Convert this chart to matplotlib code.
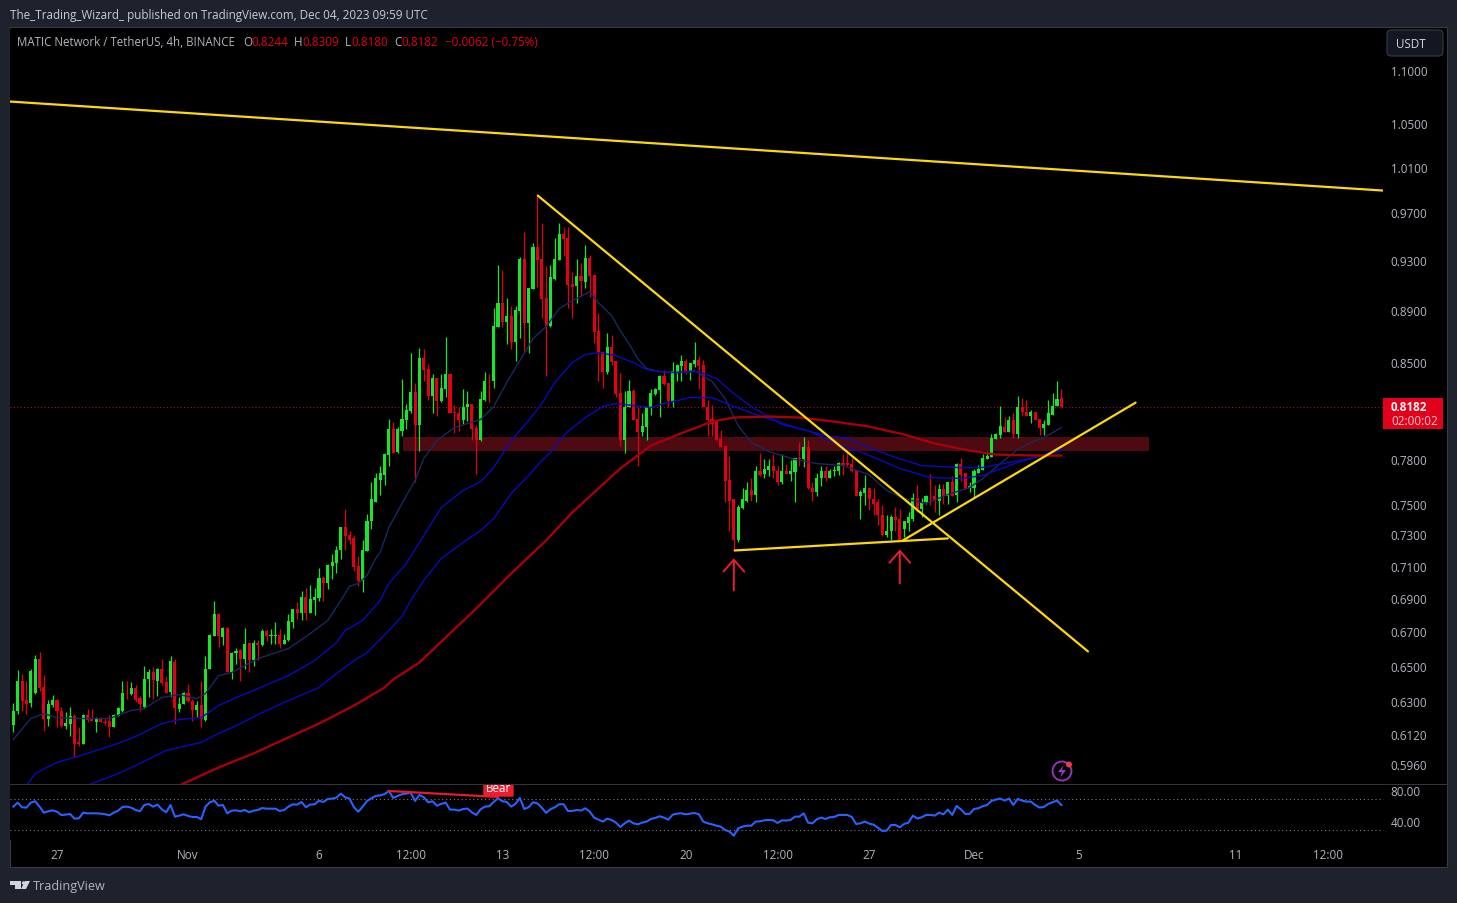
import matplotlib
matplotlib.use("Agg")
import matplotlib.pyplot as plt
import matplotlib.dates as mdates
from matplotlib.patches import Rectangle, Polygon, Circle, FancyBboxPatch
from matplotlib.ticker import NullLocator, NullFormatter
from matplotlib.transforms import IdentityTransform, ScaledTranslation
import numpy as np
import pandas as pd

plt.rcParams['font.family'] = ['Open Sans', 'DejaVu Sans']

# 4h candles, first bar 2023-10-25 08:00
first_bar = '2023-10-25 08:00'

opens = [.6177,.6251,.6423,.6316,.6295,.6351,.6549,.6389,.6209,.6288,
         .6316,.6255,.6172,.6182,.6224,.6081,.6074,.6228,.6213,.6191,
         .6215,.6191,.6195,.6167,.6224,.6255,.6355,.6347,.6381,.6325,
         .6277,.6429,.6471,.6423,.6491,.6414,.6357,.6531,.6264,.6292,
         .6353,.6310,.6260,.6283,.6200,.6486,.6683,.6809,.6674,.6729,
         .6471,.6579,.6599,.6547,.6638,.6541,.6640,.6625,.6713,.6678,
         .6683,.6689,.6634,.6658,.6761,.6839,.6815,.6912,.6815,.6894,
         .6906,.7029,.6998,.7104,.7123,.7205,.7359,.7301,.7282,.7104,
         .7011,.7199,.7392,.7523,.7671,.7704,.7842,.8024,.7863,.8010,
         .8088,.8153,.8291,.8052,.8543,.8461,.8261,.8394,.8225,.8313,
         .8424,.8139,.8132,.8088,.8175,.8203,.8031,.7940,.8232,.8372,
         .8365,.8780,.8968,.8819,.8866,.8664,.8905,.9325,.8811,.9080,
         .9424,.9325,.9008,.8788,.9161,.9316,.9525,.9499,.9120,.9104,
         .9185,.9137,.9333,.9193,.8749,.8589,.8438,.8626,.8521,.8283,
         .7940,.8175,.8298,.8095,.8003,.8038,.8168,.8276,.8305,.8409,
         .8357,.8225,.8438,.8483,.8521,.8446,.8498,.8528,.8491,.8182,
         .8095,.8081,.7954,.7905,.7671,.7537,.7269,.7483,.7530,.7597,
         .7570,.7732,.7711,.7739,.7760,.7732,.7651,.7732,.7711,.7725,
         .7815,.7808,.7898,.7617,.7584,.7678,.7732,.7678,.7732,.7732,
         .7787,.7787,.7780,.7739,.7563,.7577,.7617,.7543,.7517,.7431,
         .7307,.7327,.7424,.7411,.7340,.7385,.7411,.7550,.7477,.7517,
         .7563,.7557,.7530,.7604,.7563,.7657,.7570,.7780,.7718,.7617,
         .7617,.7718,.7739,.7808,.7828,.7954,.7982,.8038,.8003,.8088,
         .7989,.8182,.8146,.8117,.8146,.8095,.8031,.8053,.8124,.8189,
         .8244]
highs = [.6296,.6484,.6461,.6423,.6490,.6572,.6586,.6457,.6314,.6339,
         .6320,.6277,.6244,.6273,.6233,.6167,.6233,.6262,.6264,.6218,
         .6218,.6215,.6228,.6237,.6273,.6419,.6423,.6417,.6400,.6338,
         .6503,.6490,.6499,.6495,.6547,.6451,.6566,.6547,.6329,.6357,
         .6404,.6319,.6310,.6419,.6566,.6693,.6888,.6819,.6733,.6733,
         .6585,.6611,.6605,.6729,.6638,.6658,.6658,.6723,.6717,.6723,
         .6763,.6723,.6693,.6813,.6839,.6882,.6949,.6973,.6986,.6973,
         .7092,.7042,.7117,.7180,.7231,.7359,.7471,.7327,.7301,.7167,
         .7269,.7444,.7657,.7718,.7766,.7856,.8095,.8074,.8038,.8387,
         .8203,.8581,.8357,.8619,.8611,.8498,.8424,.8394,.8424,.8703,
         .8424,.8196,.8182,.8313,.8298,.8203,.8053,.8298,.8438,.8424,
         .8928,.9275,.9234,.9008,.8944,.8944,.9341,.9550,.9088,.9457,
         .9858,.9626,.9267,.9275,.9499,.9618,.9592,.9592,.9218,.9325,
         .9291,.9441,.9358,.9193,.8889,.8589,.8734,.8718,.8521,.8431,
         .8298,.8379,.8313,.8175,.8132,.8182,.8313,.8320,.8416,.8453,
         .8357,.8513,.8498,.8566,.8536,.8506,.8664,.8558,.8528,.8232,
         .8196,.8081,.8017,.7905,.7835,.7537,.7497,.7617,.7657,.7678,
         .7760,.7856,.7808,.7808,.7849,.7766,.7849,.7780,.7801,.7815,
         .7926,.7968,.7947,.7651,.7718,.7760,.7760,.7746,.7766,.7794,
         .7849,.7856,.7815,.7739,.7597,.7704,.7617,.7617,.7543,.7497,
         .7431,.7437,.7484,.7477,.7398,.7451,.7577,.7637,.7550,.7570,
         .7711,.7637,.7644,.7644,.7657,.7698,.7787,.7815,.7718,.7651,
         .7746,.7773,.7849,.7870,.7989,.7996,.8189,.8110,.8117,.8132,
         .8261,.8247,.8232,.8160,.8146,.8095,.8088,.8232,.8283,.8372,
         .8309]
lows = [.6136,.6237,.6255,.6233,.6277,.6347,.6366,.6145,.6172,.6273,
        .6167,.6167,.6154,.6113,.6003,.6061,.6074,.6191,.6195,.6136,
        .6191,.6178,.6110,.6163,.6224,.6246,.6319,.6342,.6301,.6255,
        .6270,.6329,.6319,.6338,.6400,.6351,.6329,.6182,.6246,.6292,
        .6301,.6196,.6218,.6163,.6196,.6486,.6683,.6618,.6625,.6471,
        .6429,.6518,.6419,.6490,.6471,.6508,.6541,.6619,.6654,.6634,
        .6634,.6609,.6634,.6650,.6725,.6779,.6773,.6773,.6815,.6803,
        .6888,.6888,.6961,.7023,.7060,.7148,.7211,.7243,.7073,.6980,
        .6943,.7199,.7340,.7517,.7570,.7637,.7766,.7856,.7856,.7975,
        .8024,.8132,.7651,.7870,.8372,.8232,.8132,.8117,.8218,.8254,
        .8132,.7996,.8010,.8060,.8081,.7940,.7711,.7933,.8225,.8218,
        .8320,.8780,.8780,.8649,.8611,.8521,.8695,.8596,.8581,.9080,
        .9096,.8850,.8409,.8780,.9153,.9316,.9349,.8928,.8850,.8968,
        .9024,.9088,.9016,.8657,.8365,.8320,.8424,.8491,.8254,.7905,
        .7856,.8175,.8088,.7760,.7975,.7940,.8124,.8269,.8110,.8342,
        .8182,.8182,.8365,.8365,.8424,.8379,.8476,.8313,.8175,.7975,
        .7975,.7947,.7898,.7523,.7333,.7199,.7256,.7477,.7517,.7530,
        .7517,.7698,.7678,.7698,.7678,.7637,.7644,.7711,.7664,.7523,
        .7766,.7753,.7604,.7530,.7563,.7624,.7664,.7678,.7698,.7704,
        .7704,.7766,.7725,.7557,.7411,.7497,.7464,.7437,.7372,.7295,
        .7288,.7269,.7333,.7269,.7288,.7327,.7398,.7451,.7424,.7510,
        .7497,.7457,.7437,.7510,.7510,.7563,.7523,.7664,.7604,.7590,
        .7550,.7718,.7739,.7808,.7828,.7954,.7961,.8003,.8003,.7961,
        .7961,.8117,.8117,.8067,.8088,.7982,.7982,.8053,.8124,.8189,
        .8180]
closes = [.6255,.6423,.6310,.6292,.6480,.6547,.6381,.6209,.6292,.6316,
          .6250,.6172,.6189,.6222,.6074,.6074,.6228,.6204,.6195,.6215,
          .6191,.6187,.6167,.6228,.6268,.6355,.6351,.6381,.6314,.6292,
          .6429,.6471,.6427,.6491,.6408,.6351,.6537,.6270,.6292,.6353,
          .6306,.6260,.6283,.6209,.6486,.6689,.6809,.6683,.6727,.6471,
          .6581,.6595,.6547,.6634,.6541,.6638,.6630,.6713,.6678,.6689,
          .6689,.6634,.6658,.6767,.6839,.6815,.6912,.6815,.6900,.6912,
          .7029,.6998,.7110,.7129,.7211,.7359,.7295,.7275,.7098,.7011,
          .7205,.7398,.7537,.7684,.7718,.7849,.8024,.7856,.8024,.8095,
          .8160,.8291,.8052,.8543,.8453,.8261,.8394,.8225,.8320,.8424,
          .8132,.8132,.8088,.8182,.8203,.8024,.7940,.8240,.8372,.8365,
          .8788,.8968,.8819,.8866,.8664,.8913,.9325,.8811,.9088,.9424,
          .9316,.9000,.8788,.9177,.9325,.9525,.9491,.9112,.9096,.9185,
          .9145,.9333,.9185,.8741,.8581,.8438,.8626,.8513,.8276,.7940,
          .8182,.8298,.8088,.8003,.8045,.8175,.8283,.8313,.8409,.8350,
          .8225,.8446,.8491,.8521,.8446,.8506,.8528,.8483,.8175,.8088,
          .8060,.7947,.7898,.7664,.7530,.7269,.7490,.7537,.7597,.7570,
          .7732,.7704,.7746,.7760,.7732,.7651,.7732,.7711,.7732,.7815,
          .7808,.7898,.7617,.7584,.7684,.7732,.7678,.7732,.7739,.7787,
          .7773,.7773,.7732,.7563,.7590,.7617,.7537,.7510,.7431,.7307,
          .7327,.7424,.7404,.7275,.7392,.7418,.7550,.7477,.7523,.7563,
          .7557,.7530,.7604,.7563,.7657,.7563,.7780,.7704,.7610,.7624,
          .7732,.7746,.7815,.7835,.7961,.7989,.8045,.8003,.8088,.7989,
          .8182,.8139,.8117,.8146,.8088,.8031,.8060,.8132,.8189,.8240,
          .8182]

ema_fast_bars = [0,4,7,10,15,22,27,30,34,38,42,44,47,50,56,63,68,72,75,77,79,81,83,84,86,90,92,94,97,101,
                 104,107,110,113,116,119,122,125,128,132,134,137,139,141,143,145,148,152,156,160,163,166,169,173,
                 179,184,190,196,200,204,209,214,219,222,226,230,233,236,240]
ema_fast = [.6097,.6211,.6238,.6216,.6211,.6211,.6255,.6266,.6327,.6344,.6321,.6349,.6451,.6468,.6548,.6607,
            .6695,.6773,.6894,.6980,.6998,.7048,.7155,.7192,.7353,.7563,.7664,.7815,.7940,.8031,
            .8060,.8088,.8182,.8357,.8521,.8687,.8780,.8921,.8984,.9056,.8968,.8866,.8749,.8649,.8536,.8461,
            .8438,.8431,.8446,.8365,.8240,.8045,.7926,.7863,.7808,.7780,.7766,.7704,.7597,.7543,.7510,.7570,
            .7617,.7678,.7780,.7877,.7926,.7961,.8031]

ema_mid_bars = [3,5,10,14,19,24,28,34,38,43,47,51,56,63,69,74,76,80,84,86,90,95,98,103,107,110,114,118,121,124,
                128,131,134,138,142,145,150,157,161,165,169,176,182,189,195,203,210,217,222,230,234,240]
ema_mid = [.5854,.5916,.5975,.6001,.6038,.6076,.6113,.6183,.6205,.6216,.6282,.6327,.6377,.6451,.6537,.6642,
           .6713,.6773,.6894,.6998,.7123,.7346,.7484,.7597,.7657,.7753,.7940,.8081,.8203,.8357,
           .8506,.8566,.8581,.8558,.8506,.8453,.8431,.8438,.8387,.8276,.8182,.8053,.8010,.7912,.7849,.7746,
           .7684,.7678,.7698,.7787,.7822,.7870]

ema_slow_bars = [17,20,24,29,35,43,47,52,57,63,70,74,78,81,86,89,91,94,98,103,107,110,114,118,121,123,125,127,
                 131,135,138,142,146,149,155,160,165,172,180,186,191,196,202,208,216,222,234,240]
ema_slow = [.5854,.5881,.5916,.5969,.6038,.6081,.6129,.6183,.6244,.6310,.6383,.6462,.6537,.6583,.6713,.6797,
            .6894,.7017,.7155,.7256,.7333,.7411,.7577,.7698,.7801,.7856,.7940,.8003,
            .8103,.8182,.8203,.8189,.8175,.8203,.8247,.8247,.8182,.8103,.8024,.7975,.7954,.7891,.7822,.7766,
            .7753,.7753,.7822,.7884]

ema_long_bars = [38,47,55,63,70,78,85,87,93,99,106,114,122,128,134,139,146,154,160,165,173,180,188,196,204,211,219,225,234,240]
ema_long = [.5854,.5948,.6022,.6108,.6183,.6282,.6383,.6429,.6526,.6672,.6845,.7060,.7269,.7451,.7611,.7746,
            .7905,.8003,.8074,.8103,.8110,.8103,.8074,.8038,.7982,.7919,.7870,.7842,.7835,.7835]

rsi = [59.8,65,59,58.5,65,66.7,59.8,52,53.8,55,
       53.3,49,49.5,50.3,44.3,44.7,52,51.2,51.2,51.2,
       50.8,50,48.6,52,54.6,59.4,59.8,58.5,55.5,53.8,
       62,63.2,59.8,62.4,56.4,52.5,62,46.9,48.2,49.9,
       47.8,46.5,46.5,43.5,59.8,65.4,67.5,61,62,51.2,
       54.6,55,53.8,55.5,52.5,54.6,55.5,58,57.2,57.2,
       57.2,54.2,55.5,59.8,62.8,62.4,65.8,59,62.4,62.8,
       67.5,65.8,69.7,70.1,71.4,76.6,71.8,70.1,59,53.3,
       59.8,67.1,70.6,73.6,74.4,76,80,71,73.6,75.8,
       76.6,77.9,67.1,74.9,71.9,65.4,66.7,61.1,63.3,65,
       56,56,54.7,56.8,57.3,52.5,49.1,56.4,59.8,60.3,
       65.9,70.6,66.7,65.9,59.8,63.3,71,56.8,59,65.4,
       64.1,58.6,51.7,56.4,59,62.9,62.9,54.2,54.2,55.5,
       54.7,57.7,53.4,45.6,43,40.5,44.4,42.6,39.2,33.6,
       38.3,41.8,38.3,37,39.2,40.5,43.9,45.2,47.4,45.6,
       43,49.5,50.8,51.2,49.9,50.8,51.7,49.9,40.5,38.3,
       37,35.3,34,29.7,27.6,22.4,31.9,34,35.3,35.3,
       40.5,40.9,42.2,42.6,42.2,38.8,42.2,41.8,42.6,46.9,
       46.9,51.2,39.2,38.3,43.5,45.7,43.9,46.1,46.5,49.1,
       49.1,49.1,46.5,37.5,38.3,40.5,37.9,36.6,32.7,28.4,
       28.9,36.2,36.2,33.2,37.5,39.2,48.2,44.4,46.1,49.1,
       49.1,48.2,52.1,49.9,56,49.1,60.7,56.4,50.4,50.4,
       56.8,57.7,60.3,62,67.2,68.9,70.2,67.6,70.2,62,
       69.7,67.6,66.3,66.3,62,58.6,59.4,63.3,65.4,67.6,
       62]

# drawings: bar numbers and prices
top_line_bars, top_line_prices = [-0.8, 313.6], [1.0712, .9902]
down_line_bars, down_line_prices = [120.1, 246.1], [.9858, .6590]
floor_line_bars, floor_line_prices = [165.2, 214.0], [.7205, .7282]
rise_line_bars, rise_line_prices = [203.7, 257.0], [.7269, .8210]
zone_bars, zone_prices = [89.2, 260.0], [.7870, .7968]
arrow_bars = [165.0, 203.0]
arrow_tails = [.6955, .6998]
arrow_tips = [.7155, .7211]
bear_line_bars, bear_line_rsi = [86.0, 111.0], [80.0, 72.3]

price_ticks = [1.10, 1.05, 1.01, .97, .93, .89, .85, .78, .75, .73, .71, .69, .67, .65, .63, .612, .596]
time_ticks = ['2023-10-27', '2023-11-01', '2023-11-06', '2023-11-09 12:00', '2023-11-13', '2023-11-16 12:00',
              '2023-11-20', '2023-11-23 12:00', '2023-11-27', '2023-12-01', '2023-12-05', '2023-12-11', '2023-12-14 12:00']
time_labels = ['27', 'Nov', '6', '12:00', '13', '12:00', '20', '12:00', '27', 'Dec', '5', '11', '12:00']
last_price = .8182

W, H = 1457, 904
BG = '#1e222d'
TXT = '#b2b5be'
GREEN = '#18e52c'
RED = '#e20016'
YELLOW = '#fbd90c'
FS = 8.4


def fig_rect(x0, y0, x1, y1, **kw):
    r = Rectangle((x0 / W, 1 - y1 / H), (x1 - x0) / W, (y1 - y0) / H, transform=fig.transFigure, **kw)
    fig.add_artist(r)
    return r


def fig_poly(points, **kw):
    pts = [(x / W, 1 - y / H) for x, y in points]
    p = Polygon(pts, closed=True, transform=fig.transFigure, **kw)
    fig.add_artist(p)
    return p


def fig_dot(x, y, r, **kw):
    d = Circle((x, H - y), r, transform=IdentityTransform(), **kw)
    fig.add_artist(d)
    return d


def fig_label(x, y, s, **kw):
    kw.setdefault('fontsize', FS)
    kw.setdefault('color', TXT)
    kw.setdefault('va', 'center')
    return fig.text(x / W, 1 - y / H, s, **kw)


fig = plt.figure(figsize=(W / 100, H / 100), dpi=100, facecolor=BG)
fig_rect(10, 28, 1447, 868, facecolor='black', edgecolor='#363a45', linewidth=0.8, zorder=-1)

# price pane sits 1.5px lower than its labels, the labels are moved back below
ax = fig.add_axes([10 / W, 1 - 786.5 / H, 1373 / W, 757 / H], facecolor='black')
ax2 = fig.add_axes([10 / W, 1 - 841 / H, 1373 / W, 55 / H], facecolor='black', sharex=ax)

t0 = mdates.date2num(pd.Timestamp(first_bar))
bars = np.arange(len(closes))
x = t0 + bars / 6
o, h, l, c = map(np.array, (opens, highs, lows, closes))
up = c >= o


def when(b):
    return t0 + np.asarray(b, dtype=float) / 6


ax.set_yscale('log')
ax.set_ylim(0.5854, 1.1426)
ax.set_xlim(mdates.date2num(pd.Timestamp('2023-10-25 04:57')), mdates.date2num(pd.Timestamp('2023-12-16 14:38')))

ax.fill_between(when(zone_bars), zone_prices[0], zone_prices[1], color='#4e0a11', linewidth=0, zorder=1)
ax.axhline(last_price, color='#d0101f', linestyle=(0, (1, 2.5)), linewidth=0.7, zorder=1.5)

ax.vlines(x[up], l[up], h[up], color=GREEN, linewidth=0.9, zorder=2)
ax.vlines(x[~up], l[~up], h[~up], color=RED, linewidth=0.9, zorder=2)
ax.bar(x[up], (c - o)[up], bottom=o[up], width=0.118, color=GREEN, linewidth=0, zorder=2.1)
ax.bar(x[~up], (o - c)[~up], bottom=c[~up], width=0.118, color=RED, linewidth=0, zorder=2.1)

ax.plot(when(ema_fast_bars), ema_fast, color='#172a60', linewidth=1.0, zorder=3)
ax.plot(when(ema_mid_bars), ema_mid, color='#0a0abe', linewidth=1.0, zorder=3)
ax.plot(when(ema_slow_bars), ema_slow, color='#0a0abe', linewidth=1.0, zorder=3)
ax.plot(when(ema_long_bars), ema_long, color='#a80008', linewidth=1.7, zorder=3)

for b, p in [(top_line_bars, top_line_prices), (down_line_bars, down_line_prices),
             (floor_line_bars, floor_line_prices), (rise_line_bars, rise_line_prices)]:
    ax.plot(when(b), p, color=YELLOW, linewidth=1.6, solid_capstyle='round', zorder=4)

for b, tail, tip in zip(arrow_bars, arrow_tails, arrow_tips):
    ax.annotate('', xy=(when(b), tip), xytext=(when(b), tail), zorder=4,
                arrowprops=dict(arrowstyle='->,head_length=8.5,head_width=7.5', mutation_scale=1,
                                color='#ea1c30', linewidth=1.4, shrinkA=0, shrinkB=0))

ax.yaxis.tick_right()
ax.set_yticks(price_ticks)
ax.set_yticklabels(['%.4f' % p for p in price_ticks])
ax.yaxis.set_minor_locator(NullLocator())
ax.yaxis.set_minor_formatter(NullFormatter())
ax.tick_params(axis='y', length=0, pad=5.6, labelsize=FS, labelcolor=TXT)
ax.tick_params(axis='x', length=0, labelbottom=False)
for lab in ax.get_yticklabels():
    lab.set_transform(lab.get_transform() + ScaledTranslation(0, 1.5 / 100, fig.dpi_scale_trans))

# RSI pane
ax2.set_ylim(16.8, 87.7)
ax2.axhline(70, color='#787b86', linestyle=(0, (1, 2.5)), linewidth=0.8)
ax2.axhline(30, color='#787b86', linestyle=(0, (1, 2.5)), linewidth=0.8)
ax2.plot(x, rsi, color='#2962ff', linewidth=1.5, solid_joinstyle='round', zorder=3)
ax2.plot(when(bear_line_bars), bear_line_rsi, color='#e8192c', linewidth=1.6, zorder=4)
ax2.text(when(111.1), 84.3, 'Bear', color='white', fontsize=FS, ha='center', va='center', clip_on=True, zorder=5,
         bbox=dict(boxstyle='round,pad=0.22,rounding_size=0.15', facecolor='#f01c2e', edgecolor='none'))
ax2.yaxis.tick_right()
ax2.set_yticks([80, 40])
ax2.set_yticklabels(['80.00', '40.00'])
ax2.set_xticks(mdates.date2num(pd.to_datetime(time_ticks, format='ISO8601')))
ax2.set_xticklabels(time_labels)
ax2.tick_params(axis='y', length=0, pad=5.6, labelsize=FS, labelcolor=TXT)
ax2.tick_params(axis='x', length=0, pad=6, labelsize=FS, labelcolor=TXT)
for lab in ax2.get_yticklabels():
    lab.set_transform(lab.get_transform() + ScaledTranslation(0, 1 / 100, fig.dpi_scale_trans))

for a in (ax, ax2):
    for s in a.spines.values():
        s.set_visible(False)

fig_rect(10, 785, 1447, 786, facecolor='#32353f', edgecolor='none', zorder=5)

# header and legend
fig_label(10, 15, 'The_Trading_Wizard_ published on TradingView.com, Dec 04, 2023 09:59 UTC', color='#c9ccd4')
fig_label(17, 42, 'MATIC Network / TetherUS, 4h, BINANCE', fontsize=8.3)
for lx, s in zip([243, 294, 345, 394], 'OHLC'):
    fig_label(lx, 42, s)
for lx, s in zip([251, 302, 351, 401, 445], ['0.8244', '0.8309', '0.8180', '0.8182', '\u22120.0062 (\u22120.75%)']):
    fig_label(lx, 42, s, color='#e20016')

# USDT button
button = FancyBboxPatch((1387 / W, 1 - 57 / H), 56 / W, 26 / H, boxstyle='round,pad=0,rounding_size=0.003',
                        transform=fig.transFigure, facecolor='#131722', edgecolor='#363a45', linewidth=0.8,
                        mutation_aspect=W / H, zorder=5)
fig.add_artist(button)
fig_label(1396, 44, 'USDT', color='#d1d4dc', zorder=6)

# last price tag
fig_rect(1383, 399, 1443, 430, facecolor='#e2001a', edgecolor='none', zorder=5)
fig_label(1391, 407.5, '%.4f' % last_price, color='white', fontweight='bold', zorder=6)
fig_label(1391, 422, '02:00:02', color='#f5d0d4', zorder=6)

# alert icon
fig_dot(1062, 772, 9.5, facecolor='none', edgecolor='#9c35c4', linewidth=1.3, zorder=6)
fig_poly([(1064, 766), (1058, 773), (1062, 773), (1060, 779), (1066, 771), (1062, 771)],
         facecolor='#9c35c4', edgecolor='none', zorder=6)
fig_dot(1069, 765.5, 3, facecolor='#f23645', edgecolor='none', zorder=7)

# TradingView logo
fig_poly([(10, 882), (21, 882), (21, 890), (15, 890), (15, 886), (10, 886)], facecolor='#d1d4dc', edgecolor='none')
fig_dot(23.5, 884, 1.7, facecolor='#d1d4dc', edgecolor='none')
fig_poly([(25, 882), (30, 882), (26, 890), (21, 890)], facecolor='#d1d4dc', edgecolor='none')
fig_label(33, 887, 'TradingView', fontsize=9.1, color='#b2b5be')

fig.savefig('out.png', dpi=100, facecolor=BG)
